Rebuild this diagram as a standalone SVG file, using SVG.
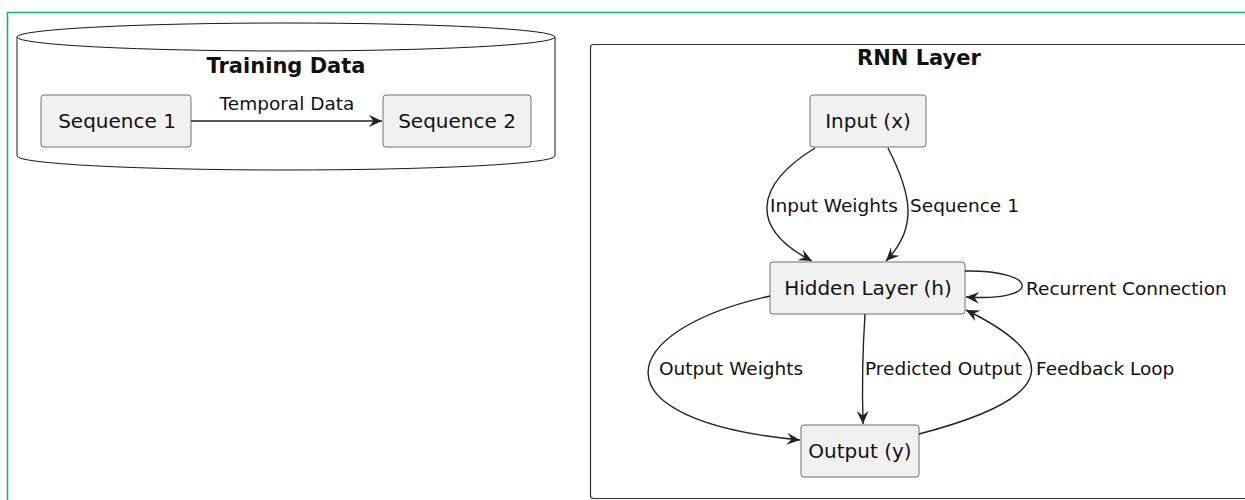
<svg xmlns="http://www.w3.org/2000/svg" width="1245" height="500" viewBox="0 0 1245 500">
<defs>
<marker id="ah" viewBox="0 0 12 10" refX="11" refY="5" markerWidth="15" markerHeight="12" markerUnits="userSpaceOnUse" orient="auto">
<path d="M0,0 L11,5 L0,10 L4,5 Z" fill="#222"/>
</marker>
</defs>
<style>
text{font-family:"DejaVu Sans","Noto Sans",sans-serif;fill:#111}
.node rect{fill:#f1f1f1;stroke:#181818;stroke-width:0.6}
.nt{font-size:20px;text-anchor:middle}
.lbl{font-size:18.5px}
.title{font-size:21px;font-weight:bold;text-anchor:middle}
.edge{fill:none;stroke:#222;stroke-width:1.4;marker-end:url(#ah)}
</style>
<rect width="1245" height="500" fill="#fff"/>
<rect x="7.5" y="12.5" width="1300" height="600" fill="none" stroke="#1db35b" stroke-width="1.5"/>
<g id="training-data">
<path d="M17,37 L17,156 A269,14 0 0 0 555,156 L555,37" fill="#fff" stroke="#181818" stroke-width="1"/>
<ellipse cx="286" cy="37" rx="269" ry="14" fill="#fff" stroke="#181818" stroke-width="1"/>
<text class="title" x="286" y="73">Training Data</text>
</g>
<g id="rnn-layer">
<rect x="590.5" y="44.5" width="720" height="454" rx="3" fill="none" stroke="#333" stroke-width="1.2"/>
<text class="title" x="919" y="65">RNN Layer</text>
</g>
<g id="seq1" class="node"><rect x="41" y="95" width="150" height="52" rx="3"/><text class="nt" x="117" y="128">Sequence 1</text></g>
<g id="seq2" class="node"><rect x="383" y="95" width="148" height="52" rx="3"/><text class="nt" x="457" y="128">Sequence 2</text></g>
<g id="input" class="node"><rect x="810" y="95" width="116" height="52" rx="3"/><text class="nt" x="868" y="128">Input (x)</text></g>
<g id="hidden" class="node"><rect x="770" y="262" width="195" height="52" rx="3"/><text class="nt" x="868" y="295">Hidden Layer (h)</text></g>
<g id="output" class="node"><rect x="801" y="425" width="118" height="52" rx="3"/><text class="nt" x="860" y="458">Output (y)</text></g>
<g id="connectors">
<path class="edge" d="M191,121 L382,121"/>
<text class="lbl" x="287" y="110" text-anchor="middle">Temporal Data</text>
<path class="edge" d="M815,148 C755,185 748,228 812,261"/>
<text class="lbl" x="770" y="212">Input Weights</text>
<path class="edge" d="M888,148 C912,195 918,228 886,261"/>
<text class="lbl" x="910" y="212">Sequence 1</text>
<path class="edge" d="M965,271 C1040,270 1042,302 966,297"/>
<text class="lbl" x="1026" y="295">Recurrent Connection</text>
<path class="edge" d="M770,296 C615,330 590,420 800,440"/>
<text class="lbl" x="659" y="375">Output Weights</text>
<path class="edge" d="M865,314 C862,360 862,390 863,424"/>
<text class="lbl" x="865" y="375">Predicted Output</text>
<path class="edge" d="M919,434 C1050,400 1068,360 966,310"/>
<text class="lbl" x="1036" y="375">Feedback Loop</text>
</g>
</svg>
